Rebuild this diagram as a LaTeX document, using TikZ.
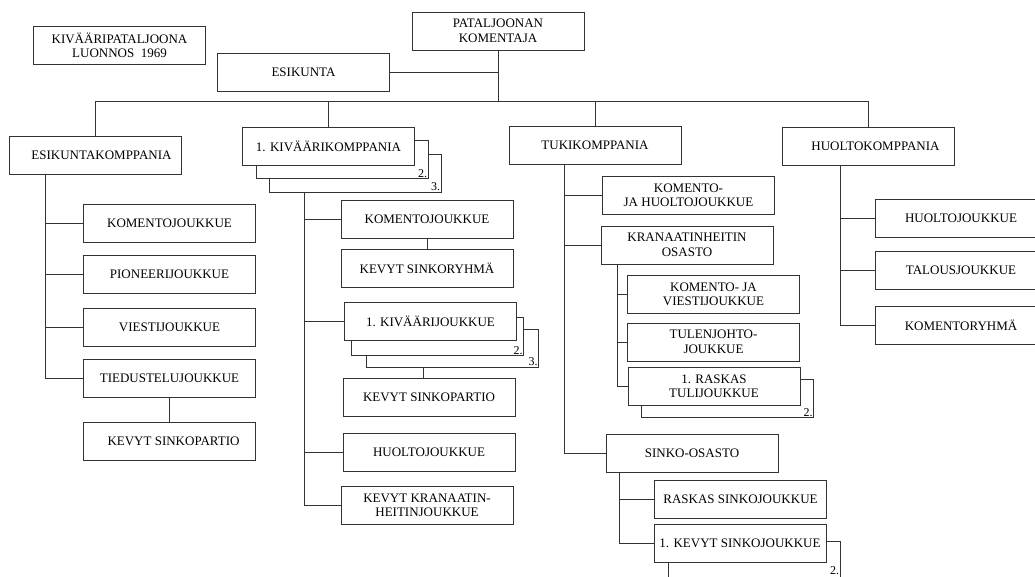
\documentclass[tikz,border=0pt]{standalone}
\usepackage{fontspec}
\setmainfont{Liberation Serif}
\tikzset{
  unit/.style={draw=black!80, line width=1pt, fill=white, minimum width=172pt,
    minimum height=38pt, inner sep=0pt, align=center,
    font=\fontsize{13}{14.5}\selectfont},
  numtag/.style={anchor=south east, inner sep=1.2pt, font=\fontsize{12}{12}\selectfont},
  link/.style={draw=black!80, line width=1pt}
}

\begin{document}
\begin{tikzpicture}[x=1pt,y=-1pt]
  \useasboundingbox (0,0) rectangle (1035,576);
  \clip (0,0) rectangle (1035,576);

  \node[unit] (title) at (119.5,45.5) {KIVÄÄRIPATALJOONA\\LUONNOS~ 1969};
  \node[unit] (cmdr) at (498,31) {PATALJOONAN\\KOMENTAJA};
  \node[unit] (esk) at (303.5,72) {ESIKUNTA};
  \coordinate (bus) at (498,101);
  \draw[link] (cmdr.south) -- (bus);
  \draw[link] (esk.east) -- (esk.east -| cmdr.south);

  \node[unit] (eskk) at (95.5,155) {\hspace{12pt}ESIKUNTAKOMPPANIA};
  \node[unit] (kvkk3) at (355,173) {};
  \node[numtag] at (kvkk3.south east) {3.};
  \node[unit] (kvkk2) at (342,159.5) {};
  \node[numtag] at (kvkk2.south east) {2.};
  \node[unit] (kvkk) at (328.5,146) {1. KIVÄÄRIKOMPPANIA};
  \node[unit] (tuki) at (595,145) {TUKIKOMPPANIA};
  \node[unit] (huolto) at (868.5,146) {\hspace{14pt}HUOLTOKOMPPANIA};
  \foreach \c in {eskk,kvkk,tuki,huolto}
    \draw[link] (\c.north) |- (bus);

  \coordinate (eskkT) at (45,174);
  \foreach \n/\y/\t in {kj1/223/KOMENTOJOUKKUE, pion/274/PIONEERIJOUKKUE,
      viesti/327/VIESTIJOUKKUE, tied/378/TIEDUSTELUJOUKKUE} {
    \node[unit] (\n) at (169.5,\y) {\t};
    \draw[link] (eskkT) |- (\n.west);
  }
  \node[unit] (ksp1) at (169.5,441) {\hspace{8pt}KEVYT SINKOPARTIO};
  \draw[link] (tied.south) -- (ksp1.north);

  \coordinate (kvkkT) at (304,192);
  \node[unit] (kj2) at (427,219.5) {KOMENTOJOUKKUE};
  \node[unit] (ksr) at (427,268) {KEVYT SINKORYHMÄ};
  \draw[link] (kj2.south) -- (ksr.north);
  \node[unit] (kvj3) at (452.5,348) {};
  \node[numtag] at (kvj3.south east) {3.};
  \node[unit] (kvj2) at (437.5,336.5) {};
  \node[numtag] at (kvj2.south east) {2.};
  \node[unit] (kvj) at (430.5,321.5) {1. KIVÄÄRIJOUKKUE};
  \node[unit] (ksp2) at (429,397) {KEVYT SINKOPARTIO};
  \draw[link] ([xshift=-6pt]ksp2.north) -- ([xshift=-6pt]ksp2.north |- kvj3.south);
  \node[unit] (hj1) at (429,452.5) {HUOLTOJOUKKUE};
  \node[unit] (kkhj) at (427,505.5) {KEVYT KRANAATIN-\\HEITINJOUKKUE};
  \foreach \n in {kj2,kvj,hj1,kkhj}
    \draw[link] (kvkkT) |- (\n.west);

  \coordinate (tukiT) at (564,164);
  \node[unit] (kjhj) at (688.5,195.5) {KOMENTO-\\JA HUOLTOJOUKKUE};
  \node[unit] (khos) at (687,245) {KRANAATINHEITIN\\OSASTO};
  \node[unit] (sinko) at (692,453) {SINKO-OSASTO};
  \foreach \n in {kjhj,khos,sinko}
    \draw[link] (tukiT) |- (\n.west);

  \coordinate (khosT) at (617,264);
  \node[unit] (kvij) at (713.5,294.5) {KOMENTO- JA\\VIESTIJOUKKUE};
  \node[unit] (tj) at (713.5,342) {TULENJOHTO-\\JOUKKUE};
  \node[unit] (rtj2) at (727.5,398.5) {};
  \node[numtag] at (rtj2.south east) {2.};
  \node[unit] (rtj) at (714,386.5) {1. RASKAS\\TULIJOUKKUE};
  \foreach \n in {kvij,tj,rtj}
    \draw[link] (khosT) |- (\n.west);

  \coordinate (sinkoT) at (619,472);
  \node[unit] (rsj) at (740.5,499.5) {RASKAS SINKOJOUKKUE};
  \node[unit] (ksj2) at (754,560) {};
  \node[numtag] at (ksj2.east |- 0,576) {2.};
  \node[unit] (ksj) at (740,543) {1. KEVYT SINKOJOUKKUE};
  \foreach \n in {rsj,ksj}
    \draw[link] (sinkoT) |- (\n.west);

  \coordinate (huoltoT) at (840,165);
  \foreach \n/\y/\t in {hj2/218/HUOLTOJOUKKUE, tal/270.5/TALOUSJOUKKUE,
      kr/325.5/KOMENTORYHMÄ} {
    \node[unit] (\n) at (961,\y) {\t};
    \draw[link] (huoltoT) |- (\n.west);
  }
\end{tikzpicture}
\end{document}
